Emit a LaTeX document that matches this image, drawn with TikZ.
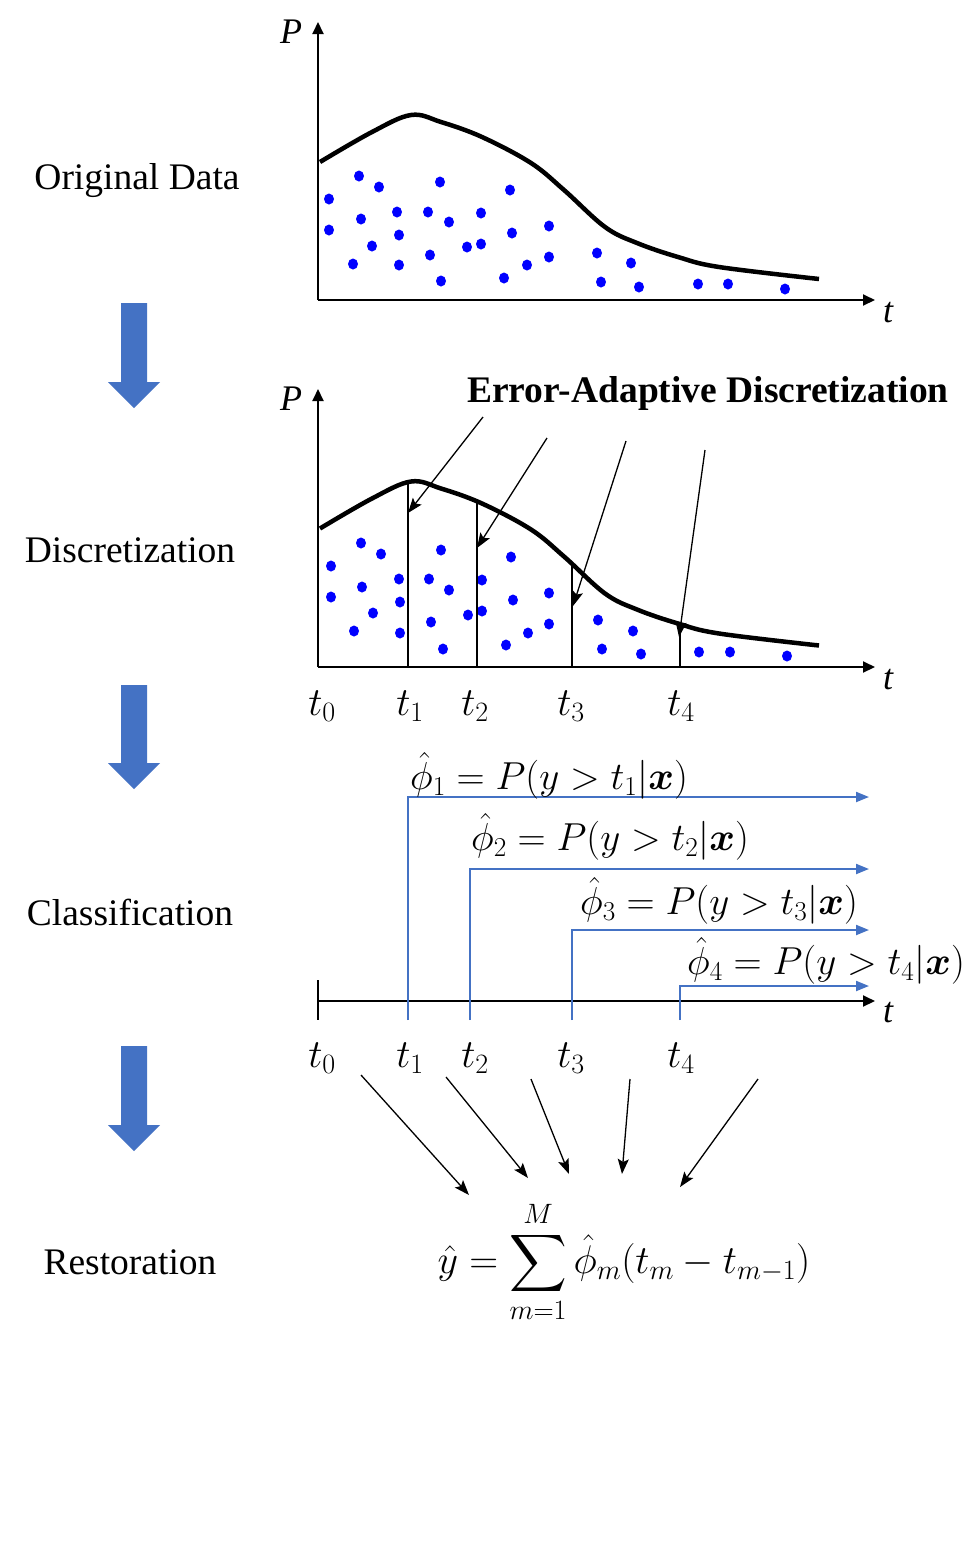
\RequirePackage{fix-cm}
\documentclass[tikz,border=0pt]{standalone}
\usepackage{amsmath}
\usepackage{fontspec}
\setmainfont{Liberation Serif}
\DeclareFontFamily{OMX}{cmex}{}
\DeclareFontShape{OMX}{cmex}{m}{n}{<->cmex10}{}
\usetikzlibrary{arrows.meta}
\definecolor{arrblue}{HTML}{4472C4}
\definecolor{dotblue}{HTML}{0000FF}
\tikzset{
  lbl/.style={font=\fontsize{37.5}{45}\selectfont, inner sep=0pt},
  axlbl/.style={font=\fontsize{36}{43}\selectfont\itshape, inner sep=0pt},
  tlbl/.style={font=\fontsize{40}{48}\selectfont, inner sep=0pt},
  flbl/.style={font=\fontsize{39}{47}\selectfont, inner sep=0pt},
  axisline/.style={line width=2pt, -{Triangle[length=12pt,width=11pt]}},
  plaincurve/.style={line width=4.5pt},
  dotmark/.style={fill=dotblue, draw=none},
  bluearrow/.style={draw=arrblue, line width=2pt, -{Triangle[length=13pt,width=10pt]}},
  thinarrow/.style={line width=1.3pt, -{Stealth[length=15pt,width=11pt,inset=3pt]}},
  bigarrow/.style={fill=arrblue, draw=none},
  sepline/.style={line width=1.5pt}
}
\newcommand{\blockarrow}[2]{% #1 top y, #2 tip y
  \fill[bigarrow] (121,#1) -- (147,#1) -- (147,#2-26) -- (160,#2-26) -- (134,#2) -- (108,#2-26) -- (121,#2-26) -- cycle;}
\newcommand{\dcurve}{%
  plot[smooth, tension=0.6] coordinates {(320,162) (372,132) (411,115) (441,122) (482,137) (531,163) (564,190) (605,227) (637,243) (678,257) (719,267) (819,279)}}
\begin{document}
\begin{tikzpicture}[x=1pt,y=-1pt]
\path[use as bounding box, fill=white] (0,0) rectangle (977,1556);

% left labels
\node[lbl] (lorig) at (137,181) {Original Data};
\node[lbl] (ldisc) at (130,550) {Discretization};
\node[lbl] (lclass) at (130,912) {Classification};
\node[lbl] (lrest) at (130,1262) {Restoration};

% block arrows
\blockarrow{303}{408}
\blockarrow{685}{789}
\blockarrow{1046}{1151}

% ---------- plot 1 ----------
\coordinate (o1) at (318,300);
\coordinate (y1) at (318,22);
\coordinate (x1) at (875,300);
\draw[axisline] (o1) -- (y1);
\draw[axisline] (o1) -- (x1);
\node[axlbl] (p1) at (291,32) {P};
\node[axlbl] (tt1) at (888,313) {t};
\draw[plaincurve] \dcurve;
\foreach \x/\y in {359/176,379/187,440/182,510/190,329/199,329/230,361/219,397/212,428/212,449/222,481/213,399/235,372/246,467/247,481/244,512/233,549/226,353/264,399/265,430/255,441/281,504/278,527/265,549/257,597/253,631/263,601/282,639/287,698/284,728/284,785/289}
  \fill[dotmark] (\x,\y) ellipse[x radius=5pt, y radius=5.5pt];

% ---------- plot 2 ----------
\coordinate (o2) at (318,667);
\coordinate (y2) at (318,389);
\coordinate (x2) at (875,667);
\draw[axisline] (o2) -- (y2);
\draw[axisline] (o2) -- (x2);
\node[axlbl] (p2) at (291,399) {P};
\node[axlbl] (tt2) at (888,680) {t};
\begin{scope}[shift={(0,366.5)}]
\draw[plaincurve] \dcurve;
\end{scope}
\foreach \x/\y in {361/543,381/554,441/550,511/557,331/566,331/597,362/587,399/579,429/579,449/590,482/580,400/602,373/613,468/615,482/611,513/600,549/593,354/631,400/633,431/622,443/649,506/645,528/633,549/624,598/620,633/631,602/649,641/654,699/652,730/652,787/656}
  \fill[dotmark] (\x,\y) ellipse[x radius=5pt, y radius=5.5pt];
% separators
\coordinate (s1b) at (408,667); \coordinate (s1t) at (408,482);
\coordinate (s2b) at (477,667); \coordinate (s2t) at (477,502);
\coordinate (s3b) at (572,667); \coordinate (s3t) at (572,564);
\coordinate (s4b) at (680,667); \coordinate (s4t) at (680,624);
\draw[sepline] (s1b) -- (s1t);
\draw[sepline] (s2b) -- (s2t);
\draw[sepline] (s3b) -- (s3t);
\draw[sepline] (s4b) -- (s4t);
\node[font=\fontsize{37.5}{45}\selectfont\bfseries, inner sep=0pt] (ead) at (708,393) {Error-Adaptive Discretization};
\coordinate (e1) at (483,417); \coordinate (h1) at (408,513);
\coordinate (e2) at (547,438); \coordinate (h2) at (477,548);
\coordinate (e3) at (626,441); \coordinate (h3) at (573,606);
\coordinate (e4) at (705,450); \coordinate (h4) at (679,637);
\draw[thinarrow] (e1) -- (h1);
\draw[thinarrow] (e2) -- (h2);
\draw[thinarrow] (e3) -- (h3);
\draw[thinarrow] (e4) -- (h4);
\node[tlbl] (a0) at (322,706) {$t_0$};
\node[tlbl] (a1) at (410,706) {$t_1$};
\node[tlbl] (a2) at (475,706) {$t_2$};
\node[tlbl] (a3) at (571,706) {$t_3$};
\node[tlbl] (a4) at (681,706) {$t_4$};

% ---------- plot 3 ----------
\coordinate (o3) at (318,1001);
\coordinate (x3) at (875,1001);
\coordinate (k3t) at (318,980);
\coordinate (k3b) at (318,1020);
\draw[axisline] (o3) -- (x3);
\draw[line width=2pt] (k3t) -- (k3b);
\node[axlbl] (tt3) at (888,1013) {t};
\coordinate (b1) at (408,1020); \coordinate (f1) at (869,797);
\coordinate (b2) at (470,1020); \coordinate (f2) at (869,869);
\coordinate (b3) at (572,1020); \coordinate (f3) at (869,930);
\coordinate (b4) at (680,1020); \coordinate (f4) at (869,986);
\draw[bluearrow] (b1) |- (f1);
\draw[bluearrow] (b2) |- (f2);
\draw[bluearrow] (b3) |- (f3);
\draw[bluearrow] (b4) |- (f4);
\node[flbl] (phi1) at (549,776) {$\hat{\phi}_1 = P(y > t_1|\boldsymbol{x})$};
\node[flbl] (phi2) at (610,837) {$\hat{\phi}_2 = P(y > t_2|\boldsymbol{x})$};
\node[flbl] (phi3) at (719,901) {$\hat{\phi}_3 = P(y > t_3|\boldsymbol{x})$};
\node[flbl] (phi4) at (826,961) {$\hat{\phi}_4 = P(y > t_4|\boldsymbol{x})$};
\node[tlbl] (c0) at (322,1058) {$t_0$};
\node[tlbl] (c1) at (410,1058) {$t_1$};
\node[tlbl] (c2) at (475,1058) {$t_2$};
\node[tlbl] (c3) at (571,1058) {$t_3$};
\node[tlbl] (c4) at (681,1058) {$t_4$};

% ---------- restoration ----------
\node[font=\fontsize{40}{48}\selectfont, inner sep=0pt] (sum) at (624,1262) {$\displaystyle \hat{y} = \sum_{m=1}^{M} \hat{\phi}_m(t_m - t_{m-1})$};
\coordinate (r1s) at (361,1075); \coordinate (r1e) at (469,1195);
\coordinate (r2s) at (446,1077); \coordinate (r2e) at (528,1178);
\coordinate (r3s) at (531,1079); \coordinate (r3e) at (569,1174);
\coordinate (r4s) at (630,1079); \coordinate (r4e) at (622,1174);
\coordinate (r5s) at (758,1079); \coordinate (r5e) at (680,1187);
\draw[thinarrow] (r1s) -- (r1e);
\draw[thinarrow] (r2s) -- (r2e);
\draw[thinarrow] (r3s) -- (r3e);
\draw[thinarrow] (r4s) -- (r4e);
\draw[thinarrow] (r5s) -- (r5e);
\end{tikzpicture}
\end{document}
